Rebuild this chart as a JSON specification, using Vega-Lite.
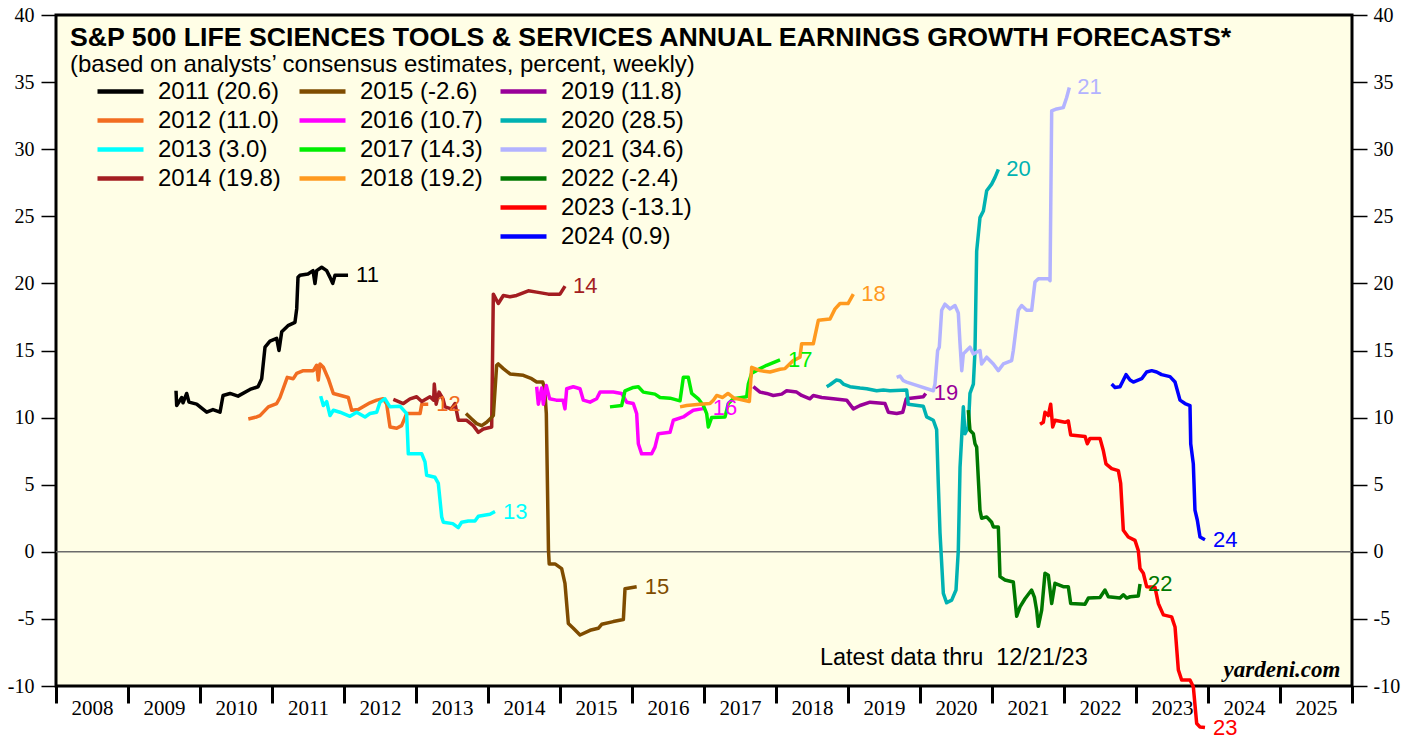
{
  "$schema": "https://vega.github.io/schema/vega-lite/v6.json",
  "width": 1296,
  "height": 671,
  "autosize": {"type": "none"},
  "padding": {"left": 56, "top": 15, "right": 67, "bottom": 52},
  "background": "white",
  "config": {
    "view": {"fill": "#fffee6", "stroke": "black", "strokeWidth": 3},
    "font": "Liberation Sans",
    "axis": {"grid": false, "domain": false, "tickColor": "black", "labelColor": "black", "labelFont": "Liberation Serif", "labelFontSize": 20, "labelFlush": false, "labelOverlap": false, "labelBound": false}
  },
  "title": {
    "text": "S&P 500 LIFE SCIENCES TOOLS & SERVICES ANNUAL EARNINGS GROWTH FORECASTS*",
    "subtitle": "(based on analysts’ consensus estimates, percent, weekly)",
    "anchor": "start", "frame": "group", "dx": 14, "offset": -72,
    "font": "Liberation Sans", "fontSize": 26.7, "fontWeight": "bold", "color": "black",
    "subtitleFont": "Liberation Sans", "subtitleFontSize": 24, "subtitleColor": "black", "subtitlePadding": 1
  },
  "datasets": {
    "est": [
      {"series":"2011 (20.6)","date":2009.667,"value":12.0},{"series":"2011 (20.6)","date":2009.676,"value":10.9},{"series":"2011 (20.6)","date":2009.746,"value":11.5},{"series":"2011 (20.6)","date":2009.764,"value":11.1},{"series":"2011 (20.6)","date":2009.815,"value":11.8},{"series":"2011 (20.6)","date":2009.847,"value":11.15},{"series":"2011 (20.6)","date":2009.954,"value":11.0},{"series":"2011 (20.6)","date":2010.093,"value":10.4},{"series":"2011 (20.6)","date":2010.18,"value":10.6},{"series":"2011 (20.6)","date":2010.278,"value":10.4},{"series":"2011 (20.6)","date":2010.32,"value":11.65},{"series":"2011 (20.6)","date":2010.417,"value":11.8},{"series":"2011 (20.6)","date":2010.528,"value":11.6},{"series":"2011 (20.6)","date":2010.694,"value":12.1},{"series":"2011 (20.6)","date":2010.806,"value":12.3},{"series":"2011 (20.6)","date":2010.857,"value":12.9},{"series":"2011 (20.6)","date":2010.903,"value":15.25},{"series":"2011 (20.6)","date":2010.972,"value":15.7},{"series":"2011 (20.6)","date":2011.065,"value":15.9},{"series":"2011 (20.6)","date":2011.097,"value":15.0},{"series":"2011 (20.6)","date":2011.135,"value":16.4},{"series":"2011 (20.6)","date":2011.222,"value":16.85},{"series":"2011 (20.6)","date":2011.319,"value":17.1},{"series":"2011 (20.6)","date":2011.343,"value":18.1},{"series":"2011 (20.6)","date":2011.361,"value":20.45},{"series":"2011 (20.6)","date":2011.389,"value":20.6},{"series":"2011 (20.6)","date":2011.5,"value":20.7},{"series":"2011 (20.6)","date":2011.57,"value":20.95},{"series":"2011 (20.6)","date":2011.597,"value":20.0},{"series":"2011 (20.6)","date":2011.62,"value":20.95},{"series":"2011 (20.6)","date":2011.69,"value":21.2},{"series":"2011 (20.6)","date":2011.76,"value":20.95},{"series":"2011 (20.6)","date":2011.806,"value":20.45},{"series":"2011 (20.6)","date":2011.843,"value":20.0},{"series":"2011 (20.6)","date":2011.875,"value":20.6},{"series":"2011 (20.6)","date":2012.056,"value":20.6},

      {"series":"2012 (11.0)","date":2010.671,"value":9.9},{"series":"2012 (11.0)","date":2010.787,"value":10.05},{"series":"2012 (11.0)","date":2010.833,"value":10.15},{"series":"2012 (11.0)","date":2010.949,"value":10.8},{"series":"2012 (11.0)","date":2011.065,"value":11.05},{"series":"2012 (11.0)","date":2011.111,"value":11.5},{"series":"2012 (11.0)","date":2011.212,"value":13.0},{"series":"2012 (11.0)","date":2011.296,"value":12.9},{"series":"2012 (11.0)","date":2011.343,"value":13.3},{"series":"2012 (11.0)","date":2011.435,"value":13.5},{"series":"2012 (11.0)","date":2011.574,"value":13.5},{"series":"2012 (11.0)","date":2011.62,"value":13.9},{"series":"2012 (11.0)","date":2011.643,"value":12.8},{"series":"2012 (11.0)","date":2011.667,"value":14.0},{"series":"2012 (11.0)","date":2011.713,"value":13.75},{"series":"2012 (11.0)","date":2011.782,"value":12.9},{"series":"2012 (11.0)","date":2011.852,"value":11.8},{"series":"2012 (11.0)","date":2012.06,"value":11.5},{"series":"2012 (11.0)","date":2012.107,"value":10.55},{"series":"2012 (11.0)","date":2012.199,"value":10.6},{"series":"2012 (11.0)","date":2012.361,"value":11.1},{"series":"2012 (11.0)","date":2012.454,"value":11.3},{"series":"2012 (11.0)","date":2012.546,"value":11.4},{"series":"2012 (11.0)","date":2012.593,"value":11.0},{"series":"2012 (11.0)","date":2012.639,"value":9.3},{"series":"2012 (11.0)","date":2012.732,"value":9.2},{"series":"2012 (11.0)","date":2012.8,"value":9.4},{"series":"2012 (11.0)","date":2012.87,"value":10.3},{"series":"2012 (11.0)","date":2013.056,"value":10.3},{"series":"2012 (11.0)","date":2013.08,"value":11.0},{"series":"2012 (11.0)","date":2013.17,"value":11.0},

      {"series":"2013 (3.0)","date":2011.676,"value":11.6},{"series":"2013 (3.0)","date":2011.713,"value":10.9},{"series":"2013 (3.0)","date":2011.759,"value":11.2},{"series":"2013 (3.0)","date":2011.806,"value":10.15},{"series":"2013 (3.0)","date":2011.852,"value":10.55},{"series":"2013 (3.0)","date":2011.944,"value":10.4},{"series":"2013 (3.0)","date":2012.083,"value":10.1},{"series":"2013 (3.0)","date":2012.176,"value":10.4},{"series":"2013 (3.0)","date":2012.292,"value":10.05},{"series":"2013 (3.0)","date":2012.361,"value":10.3},{"series":"2013 (3.0)","date":2012.454,"value":10.4},{"series":"2013 (3.0)","date":2012.5,"value":11.15},{"series":"2013 (3.0)","date":2012.569,"value":11.4},{"series":"2013 (3.0)","date":2012.639,"value":10.8},{"series":"2013 (3.0)","date":2012.778,"value":10.85},{"series":"2013 (3.0)","date":2012.87,"value":10.3},{"series":"2013 (3.0)","date":2012.893,"value":7.3},{"series":"2013 (3.0)","date":2013.08,"value":7.3},{"series":"2013 (3.0)","date":2013.125,"value":6.7},{"series":"2013 (3.0)","date":2013.148,"value":5.7},{"series":"2013 (3.0)","date":2013.264,"value":5.55},{"series":"2013 (3.0)","date":2013.31,"value":5.1},{"series":"2013 (3.0)","date":2013.357,"value":2.6},{"series":"2013 (3.0)","date":2013.38,"value":2.2},{"series":"2013 (3.0)","date":2013.51,"value":2.1},{"series":"2013 (3.0)","date":2013.587,"value":1.8},{"series":"2013 (3.0)","date":2013.634,"value":2.2},{"series":"2013 (3.0)","date":2013.727,"value":2.3},{"series":"2013 (3.0)","date":2013.819,"value":2.3},{"series":"2013 (3.0)","date":2013.866,"value":2.65},{"series":"2013 (3.0)","date":2014.028,"value":2.8},{"series":"2013 (3.0)","date":2014.097,"value":3.0},

      {"series":"2014 (19.8)","date":2012.685,"value":11.35},{"series":"2014 (19.8)","date":2012.824,"value":11.05},{"series":"2014 (19.8)","date":2012.917,"value":11.4},{"series":"2014 (19.8)","date":2013.009,"value":11.55},{"series":"2014 (19.8)","date":2013.08,"value":11.2},{"series":"2014 (19.8)","date":2013.194,"value":11.55},{"series":"2014 (19.8)","date":2013.245,"value":11.3},{"series":"2014 (19.8)","date":2013.254,"value":12.5},{"series":"2014 (19.8)","date":2013.28,"value":11.0},{"series":"2014 (19.8)","date":2013.32,"value":11.9},{"series":"2014 (19.8)","date":2013.375,"value":11.4},{"series":"2014 (19.8)","date":2013.403,"value":10.8},{"series":"2014 (19.8)","date":2013.49,"value":10.65},{"series":"2014 (19.8)","date":2013.542,"value":11.05},{"series":"2014 (19.8)","date":2013.588,"value":9.8},{"series":"2014 (19.8)","date":2013.704,"value":9.8},{"series":"2014 (19.8)","date":2013.796,"value":9.4},{"series":"2014 (19.8)","date":2013.866,"value":8.9},{"series":"2014 (19.8)","date":2013.935,"value":9.15},{"series":"2014 (19.8)","date":2014.051,"value":9.3},{"series":"2014 (19.8)","date":2014.074,"value":19.2},{"series":"2014 (19.8)","date":2014.143,"value":18.5},{"series":"2014 (19.8)","date":2014.213,"value":19.1},{"series":"2014 (19.8)","date":2014.306,"value":19.0},{"series":"2014 (19.8)","date":2014.398,"value":19.1},{"series":"2014 (19.8)","date":2014.56,"value":19.45},{"series":"2014 (19.8)","date":2014.676,"value":19.35},{"series":"2014 (19.8)","date":2014.838,"value":19.2},{"series":"2014 (19.8)","date":2015.0,"value":19.2},{"series":"2014 (19.8)","date":2015.07,"value":19.8},

      {"series":"2015 (-2.6)","date":2013.694,"value":10.3},{"series":"2015 (-2.6)","date":2013.773,"value":9.9},{"series":"2015 (-2.6)","date":2013.843,"value":9.55},{"series":"2015 (-2.6)","date":2013.912,"value":9.4},{"series":"2015 (-2.6)","date":2013.981,"value":9.65},{"series":"2015 (-2.6)","date":2014.028,"value":9.9},{"series":"2015 (-2.6)","date":2014.074,"value":10.15},{"series":"2015 (-2.6)","date":2014.12,"value":13.9},{"series":"2015 (-2.6)","date":2014.143,"value":14.0},{"series":"2015 (-2.6)","date":2014.213,"value":13.65},{"series":"2015 (-2.6)","date":2014.306,"value":13.25},{"series":"2015 (-2.6)","date":2014.49,"value":13.15},{"series":"2015 (-2.6)","date":2014.606,"value":12.9},{"series":"2015 (-2.6)","date":2014.676,"value":12.65},{"series":"2015 (-2.6)","date":2014.76,"value":12.65},{"series":"2015 (-2.6)","date":2014.787,"value":12.15},{"series":"2015 (-2.6)","date":2014.81,"value":10.3},{"series":"2015 (-2.6)","date":2014.84,"value":0.1},{"series":"2015 (-2.6)","date":2014.85,"value":-0.9},{"series":"2015 (-2.6)","date":2014.93,"value":-0.9},{"series":"2015 (-2.6)","date":2015.023,"value":-1.25},{"series":"2015 (-2.6)","date":2015.069,"value":-2.35},{"series":"2015 (-2.6)","date":2015.116,"value":-5.35},{"series":"2015 (-2.6)","date":2015.185,"value":-5.7},{"series":"2015 (-2.6)","date":2015.278,"value":-6.2},{"series":"2015 (-2.6)","date":2015.417,"value":-5.85},{"series":"2015 (-2.6)","date":2015.532,"value":-5.7},{"series":"2015 (-2.6)","date":2015.579,"value":-5.4},{"series":"2015 (-2.6)","date":2015.74,"value":-5.2},{"series":"2015 (-2.6)","date":2015.88,"value":-5.05},{"series":"2015 (-2.6)","date":2015.903,"value":-2.75},{"series":"2015 (-2.6)","date":2016.065,"value":-2.6},

      {"series":"2016 (10.7)","date":2014.676,"value":12.3},{"series":"2016 (10.7)","date":2014.699,"value":11.0},{"series":"2016 (10.7)","date":2014.745,"value":12.2},{"series":"2016 (10.7)","date":2014.768,"value":11.0},{"series":"2016 (10.7)","date":2014.81,"value":12.4},{"series":"2016 (10.7)","date":2014.856,"value":11.4},{"series":"2016 (10.7)","date":2014.949,"value":11.3},{"series":"2016 (10.7)","date":2015.042,"value":11.3},{"series":"2016 (10.7)","date":2015.069,"value":10.65},{"series":"2016 (10.7)","date":2015.093,"value":12.15},{"series":"2016 (10.7)","date":2015.185,"value":12.3},{"series":"2016 (10.7)","date":2015.278,"value":12.15},{"series":"2016 (10.7)","date":2015.324,"value":11.3},{"series":"2016 (10.7)","date":2015.417,"value":11.15},{"series":"2016 (10.7)","date":2015.509,"value":11.4},{"series":"2016 (10.7)","date":2015.556,"value":11.9},{"series":"2016 (10.7)","date":2015.74,"value":11.9},{"series":"2016 (10.7)","date":2015.856,"value":11.8},{"series":"2016 (10.7)","date":2015.926,"value":11.15},{"series":"2016 (10.7)","date":2016.018,"value":11.05},{"series":"2016 (10.7)","date":2016.065,"value":10.3},{"series":"2016 (10.7)","date":2016.088,"value":8.05},{"series":"2016 (10.7)","date":2016.134,"value":7.3},{"series":"2016 (10.7)","date":2016.273,"value":7.3},{"series":"2016 (10.7)","date":2016.319,"value":7.8},{"series":"2016 (10.7)","date":2016.365,"value":8.8},{"series":"2016 (10.7)","date":2016.528,"value":8.9},{"series":"2016 (10.7)","date":2016.574,"value":9.8},{"series":"2016 (10.7)","date":2016.713,"value":10.05},{"series":"2016 (10.7)","date":2016.782,"value":10.3},{"series":"2016 (10.7)","date":2016.852,"value":10.55},{"series":"2016 (10.7)","date":2016.968,"value":10.65},{"series":"2016 (10.7)","date":2017.01,"value":10.7},

      {"series":"2017 (14.3)","date":2015.694,"value":10.8},{"series":"2017 (14.3)","date":2015.856,"value":10.9},{"series":"2017 (14.3)","date":2015.903,"value":12.0},{"series":"2017 (14.3)","date":2016.019,"value":12.25},{"series":"2017 (14.3)","date":2016.088,"value":12.3},{"series":"2017 (14.3)","date":2016.157,"value":11.9},{"series":"2017 (14.3)","date":2016.319,"value":11.75},{"series":"2017 (14.3)","date":2016.389,"value":11.5},{"series":"2017 (14.3)","date":2016.528,"value":11.45},{"series":"2017 (14.3)","date":2016.667,"value":11.25},{"series":"2017 (14.3)","date":2016.713,"value":13.0},{"series":"2017 (14.3)","date":2016.782,"value":13.0},{"series":"2017 (14.3)","date":2016.829,"value":11.8},{"series":"2017 (14.3)","date":2016.921,"value":11.4},{"series":"2017 (14.3)","date":2016.991,"value":10.9},{"series":"2017 (14.3)","date":2017.037,"value":10.3},{"series":"2017 (14.3)","date":2017.06,"value":9.3},{"series":"2017 (14.3)","date":2017.106,"value":10.0},{"series":"2017 (14.3)","date":2017.292,"value":10.05},{"series":"2017 (14.3)","date":2017.338,"value":11.05},{"series":"2017 (14.3)","date":2017.407,"value":11.4},{"series":"2017 (14.3)","date":2017.593,"value":11.55},{"series":"2017 (14.3)","date":2017.616,"value":12.5},{"series":"2017 (14.3)","date":2017.662,"value":13.3},{"series":"2017 (14.3)","date":2017.778,"value":13.65},{"series":"2017 (14.3)","date":2017.87,"value":13.9},{"series":"2017 (14.3)","date":2017.963,"value":14.1},{"series":"2017 (14.3)","date":2018.056,"value":14.3},

      {"series":"2018 (19.2)","date":2016.667,"value":10.8},{"series":"2018 (19.2)","date":2016.76,"value":10.9},{"series":"2018 (19.2)","date":2016.944,"value":11.0},{"series":"2018 (19.2)","date":2017.083,"value":11.05},{"series":"2018 (19.2)","date":2017.13,"value":11.3},{"series":"2018 (19.2)","date":2017.176,"value":11.65},{"series":"2018 (19.2)","date":2017.259,"value":11.5},{"series":"2018 (19.2)","date":2017.333,"value":11.8},{"series":"2018 (19.2)","date":2017.417,"value":11.45},{"series":"2018 (19.2)","date":2017.63,"value":11.2},{"series":"2018 (19.2)","date":2017.662,"value":13.75},{"series":"2018 (19.2)","date":2017.778,"value":13.5},{"series":"2018 (19.2)","date":2017.917,"value":13.4},{"series":"2018 (19.2)","date":2018.056,"value":13.6},{"series":"2018 (19.2)","date":2018.125,"value":13.65},{"series":"2018 (19.2)","date":2018.24,"value":14.25},{"series":"2018 (19.2)","date":2018.333,"value":14.5},{"series":"2018 (19.2)","date":2018.356,"value":15.5},{"series":"2018 (19.2)","date":2018.518,"value":15.5},{"series":"2018 (19.2)","date":2018.588,"value":17.25},{"series":"2018 (19.2)","date":2018.75,"value":17.35},{"series":"2018 (19.2)","date":2018.82,"value":18.1},{"series":"2018 (19.2)","date":2018.889,"value":18.5},{"series":"2018 (19.2)","date":2019.0,"value":18.5},{"series":"2018 (19.2)","date":2019.074,"value":19.2},

      {"series":"2019 (11.8)","date":2017.685,"value":12.3},{"series":"2019 (11.8)","date":2017.778,"value":11.9},{"series":"2019 (11.8)","date":2017.87,"value":11.8},{"series":"2019 (11.8)","date":2017.963,"value":11.65},{"series":"2019 (11.8)","date":2018.079,"value":11.75},{"series":"2019 (11.8)","date":2018.148,"value":12.0},{"series":"2019 (11.8)","date":2018.287,"value":11.9},{"series":"2019 (11.8)","date":2018.356,"value":11.65},{"series":"2019 (11.8)","date":2018.472,"value":11.4},{"series":"2019 (11.8)","date":2018.518,"value":11.65},{"series":"2019 (11.8)","date":2018.634,"value":11.5},{"series":"2019 (11.8)","date":2018.796,"value":11.4},{"series":"2019 (11.8)","date":2018.981,"value":11.3},{"series":"2019 (11.8)","date":2019.074,"value":10.65},{"series":"2019 (11.8)","date":2019.167,"value":10.9},{"series":"2019 (11.8)","date":2019.306,"value":11.15},{"series":"2019 (11.8)","date":2019.514,"value":11.05},{"series":"2019 (11.8)","date":2019.56,"value":10.4},{"series":"2019 (11.8)","date":2019.676,"value":10.3},{"series":"2019 (11.8)","date":2019.76,"value":10.4},{"series":"2019 (11.8)","date":2019.81,"value":11.4},{"series":"2019 (11.8)","date":2020.046,"value":11.55},{"series":"2019 (11.8)","date":2020.08,"value":11.8},

      {"series":"2020 (28.5)","date":2018.704,"value":12.3},{"series":"2020 (28.5)","date":2018.75,"value":12.45},{"series":"2020 (28.5)","date":2018.84,"value":12.8},{"series":"2020 (28.5)","date":2018.889,"value":12.75},{"series":"2020 (28.5)","date":2018.935,"value":12.5},{"series":"2020 (28.5)","date":2019.028,"value":12.3},{"series":"2020 (28.5)","date":2019.167,"value":12.2},{"series":"2020 (28.5)","date":2019.26,"value":12.15},{"series":"2020 (28.5)","date":2019.398,"value":12.0},{"series":"2020 (28.5)","date":2019.491,"value":12.05},{"series":"2020 (28.5)","date":2019.583,"value":12.0},{"series":"2020 (28.5)","date":2019.815,"value":12.05},{"series":"2020 (28.5)","date":2019.837,"value":11.0},{"series":"2020 (28.5)","date":2020.046,"value":10.85},{"series":"2020 (28.5)","date":2020.093,"value":10.05},{"series":"2020 (28.5)","date":2020.185,"value":9.8},{"series":"2020 (28.5)","date":2020.231,"value":9.1},{"series":"2020 (28.5)","date":2020.254,"value":5.1},{"series":"2020 (28.5)","date":2020.278,"value":1.4},{"series":"2020 (28.5)","date":2020.324,"value":-3.1},{"series":"2020 (28.5)","date":2020.37,"value":-3.8},{"series":"2020 (28.5)","date":2020.44,"value":-3.6},{"series":"2020 (28.5)","date":2020.5,"value":-2.85},{"series":"2020 (28.5)","date":2020.532,"value":0.1},{"series":"2020 (28.5)","date":2020.556,"value":6.3},{"series":"2020 (28.5)","date":2020.602,"value":10.8},{"series":"2020 (28.5)","date":2020.625,"value":8.8},{"series":"2020 (28.5)","date":2020.671,"value":9.3},{"series":"2020 (28.5)","date":2020.694,"value":11.8},{"series":"2020 (28.5)","date":2020.741,"value":12.5},{"series":"2020 (28.5)","date":2020.764,"value":15.0},{"series":"2020 (28.5)","date":2020.787,"value":22.4},{"series":"2020 (28.5)","date":2020.833,"value":24.9},{"series":"2020 (28.5)","date":2020.88,"value":25.4},{"series":"2020 (28.5)","date":2020.926,"value":26.9},{"series":"2020 (28.5)","date":2020.995,"value":27.4},{"series":"2020 (28.5)","date":2021.042,"value":27.9},{"series":"2020 (28.5)","date":2021.088,"value":28.5},

      {"series":"2021 (34.6)","date":2019.676,"value":13.0},{"series":"2021 (34.6)","date":2019.722,"value":13.1},{"series":"2021 (34.6)","date":2019.769,"value":12.75},{"series":"2021 (34.6)","date":2019.815,"value":12.65},{"series":"2021 (34.6)","date":2019.954,"value":12.4},{"series":"2021 (34.6)","date":2020.185,"value":12.0},{"series":"2021 (34.6)","date":2020.208,"value":12.5},{"series":"2021 (34.6)","date":2020.245,"value":15.0},{"series":"2021 (34.6)","date":2020.268,"value":15.25},{"series":"2021 (34.6)","date":2020.301,"value":18.0},{"series":"2021 (34.6)","date":2020.347,"value":18.45},{"series":"2021 (34.6)","date":2020.417,"value":18.1},{"series":"2021 (34.6)","date":2020.486,"value":18.35},{"series":"2021 (34.6)","date":2020.532,"value":17.8},{"series":"2021 (34.6)","date":2020.556,"value":15.5},{"series":"2021 (34.6)","date":2020.58,"value":13.5},{"series":"2021 (34.6)","date":2020.602,"value":14.75},{"series":"2021 (34.6)","date":2020.648,"value":15.0},{"series":"2021 (34.6)","date":2020.694,"value":15.25},{"series":"2021 (34.6)","date":2020.741,"value":14.75},{"series":"2021 (34.6)","date":2020.833,"value":15.0},{"series":"2021 (34.6)","date":2020.856,"value":14.0},{"series":"2021 (34.6)","date":2020.926,"value":14.5},{"series":"2021 (34.6)","date":2021.019,"value":14.0},{"series":"2021 (34.6)","date":2021.088,"value":13.5},{"series":"2021 (34.6)","date":2021.157,"value":14.0},{"series":"2021 (34.6)","date":2021.273,"value":14.25},{"series":"2021 (34.6)","date":2021.296,"value":15.0},{"series":"2021 (34.6)","date":2021.366,"value":18.0},{"series":"2021 (34.6)","date":2021.412,"value":18.35},{"series":"2021 (34.6)","date":2021.481,"value":18.0},{"series":"2021 (34.6)","date":2021.551,"value":18.0},{"series":"2021 (34.6)","date":2021.597,"value":20.1},{"series":"2021 (34.6)","date":2021.644,"value":20.35},{"series":"2021 (34.6)","date":2021.782,"value":20.35},{"series":"2021 (34.6)","date":2021.806,"value":20.2},{"series":"2021 (34.6)","date":2021.829,"value":32.85},{"series":"2021 (34.6)","date":2021.898,"value":33.0},{"series":"2021 (34.6)","date":2021.99,"value":33.1},{"series":"2021 (34.6)","date":2022.037,"value":33.85},{"series":"2021 (34.6)","date":2022.074,"value":34.6},

      {"series":"2022 (-2.4)","date":2020.671,"value":10.55},{"series":"2022 (-2.4)","date":2020.694,"value":9.05},{"series":"2022 (-2.4)","date":2020.741,"value":8.8},{"series":"2022 (-2.4)","date":2020.764,"value":8.05},{"series":"2022 (-2.4)","date":2020.787,"value":7.8},{"series":"2022 (-2.4)","date":2020.833,"value":3.1},{"series":"2022 (-2.4)","date":2020.856,"value":2.5},{"series":"2022 (-2.4)","date":2020.926,"value":2.6},{"series":"2022 (-2.4)","date":2020.995,"value":2.2},{"series":"2022 (-2.4)","date":2021.019,"value":1.85},{"series":"2022 (-2.4)","date":2021.088,"value":1.85},{"series":"2022 (-2.4)","date":2021.111,"value":-1.85},{"series":"2022 (-2.4)","date":2021.181,"value":-2.1},{"series":"2022 (-2.4)","date":2021.296,"value":-2.25},{"series":"2022 (-2.4)","date":2021.343,"value":-4.8},{"series":"2022 (-2.4)","date":2021.389,"value":-4.1},{"series":"2022 (-2.4)","date":2021.458,"value":-3.5},{"series":"2022 (-2.4)","date":2021.55,"value":-2.85},{"series":"2022 (-2.4)","date":2021.59,"value":-3.4},{"series":"2022 (-2.4)","date":2021.62,"value":-4.35},{"series":"2022 (-2.4)","date":2021.643,"value":-5.55},{"series":"2022 (-2.4)","date":2021.69,"value":-4.35},{"series":"2022 (-2.4)","date":2021.736,"value":-1.6},{"series":"2022 (-2.4)","date":2021.782,"value":-1.75},{"series":"2022 (-2.4)","date":2021.829,"value":-3.85},{"series":"2022 (-2.4)","date":2021.875,"value":-2.35},{"series":"2022 (-2.4)","date":2021.99,"value":-2.6},{"series":"2022 (-2.4)","date":2022.06,"value":-2.6},{"series":"2022 (-2.4)","date":2022.093,"value":-3.85},{"series":"2022 (-2.4)","date":2022.292,"value":-3.9},{"series":"2022 (-2.4)","date":2022.338,"value":-3.45},{"series":"2022 (-2.4)","date":2022.5,"value":-3.4},{"series":"2022 (-2.4)","date":2022.569,"value":-2.85},{"series":"2022 (-2.4)","date":2022.616,"value":-3.35},{"series":"2022 (-2.4)","date":2022.778,"value":-3.45},{"series":"2022 (-2.4)","date":2022.824,"value":-3.2},{"series":"2022 (-2.4)","date":2022.87,"value":-3.45},{"series":"2022 (-2.4)","date":2022.92,"value":-3.35},{"series":"2022 (-2.4)","date":2023.032,"value":-3.3},{"series":"2022 (-2.4)","date":2023.056,"value":-2.4},

      {"series":"2023 (-13.1)","date":2021.667,"value":9.5},{"series":"2023 (-13.1)","date":2021.713,"value":9.65},{"series":"2023 (-13.1)","date":2021.736,"value":10.4},{"series":"2023 (-13.1)","date":2021.782,"value":10.15},{"series":"2023 (-13.1)","date":2021.815,"value":11.0},{"series":"2023 (-13.1)","date":2021.843,"value":9.3},{"series":"2023 (-13.1)","date":2021.875,"value":9.8},{"series":"2023 (-13.1)","date":2022.014,"value":9.65},{"series":"2023 (-13.1)","date":2022.06,"value":9.75},{"series":"2023 (-13.1)","date":2022.093,"value":8.7},{"series":"2023 (-13.1)","date":2022.292,"value":8.6},{"series":"2023 (-13.1)","date":2022.324,"value":8.05},{"series":"2023 (-13.1)","date":2022.361,"value":8.45},{"series":"2023 (-13.1)","date":2022.5,"value":8.45},{"series":"2023 (-13.1)","date":2022.546,"value":7.55},{"series":"2023 (-13.1)","date":2022.583,"value":6.55},{"series":"2023 (-13.1)","date":2022.662,"value":6.2},{"series":"2023 (-13.1)","date":2022.755,"value":6.05},{"series":"2023 (-13.1)","date":2022.787,"value":5.1},{"series":"2023 (-13.1)","date":2022.824,"value":1.6},{"series":"2023 (-13.1)","date":2022.893,"value":1.1},{"series":"2023 (-13.1)","date":2022.986,"value":0.85},{"series":"2023 (-13.1)","date":2023.032,"value":0.1},{"series":"2023 (-13.1)","date":2023.056,"value":-1.25},{"series":"2023 (-13.1)","date":2023.102,"value":-1.6},{"series":"2023 (-13.1)","date":2023.148,"value":-2.6},{"series":"2023 (-13.1)","date":2023.264,"value":-2.65},{"series":"2023 (-13.1)","date":2023.31,"value":-3.85},{"series":"2023 (-13.1)","date":2023.38,"value":-4.7},{"series":"2023 (-13.1)","date":2023.495,"value":-4.85},{"series":"2023 (-13.1)","date":2023.542,"value":-5.6},{"series":"2023 (-13.1)","date":2023.588,"value":-8.8},{"series":"2023 (-13.1)","date":2023.634,"value":-9.55},{"series":"2023 (-13.1)","date":2023.75,"value":-9.55},{"series":"2023 (-13.1)","date":2023.796,"value":-10.05},{"series":"2023 (-13.1)","date":2023.843,"value":-12.8},{"series":"2023 (-13.1)","date":2023.889,"value":-13.05},{"series":"2023 (-13.1)","date":2023.958,"value":-13.1},

      {"series":"2024 (0.9)","date":2022.662,"value":12.5},{"series":"2024 (0.9)","date":2022.708,"value":12.25},{"series":"2024 (0.9)","date":2022.778,"value":12.3},{"series":"2024 (0.9)","date":2022.861,"value":13.2},{"series":"2024 (0.9)","date":2022.917,"value":12.8},{"series":"2024 (0.9)","date":2022.963,"value":12.65},{"series":"2024 (0.9)","date":2023.079,"value":12.9},{"series":"2024 (0.9)","date":2023.148,"value":13.4},{"series":"2024 (0.9)","date":2023.218,"value":13.5},{"series":"2024 (0.9)","date":2023.287,"value":13.4},{"series":"2024 (0.9)","date":2023.356,"value":13.2},{"series":"2024 (0.9)","date":2023.472,"value":13.05},{"series":"2024 (0.9)","date":2023.542,"value":12.65},{"series":"2024 (0.9)","date":2023.611,"value":11.3},{"series":"2024 (0.9)","date":2023.68,"value":11.05},{"series":"2024 (0.9)","date":2023.75,"value":10.9},{"series":"2024 (0.9)","date":2023.76,"value":8.05},{"series":"2024 (0.9)","date":2023.796,"value":6.55},{"series":"2024 (0.9)","date":2023.819,"value":3.1},{"series":"2024 (0.9)","date":2023.852,"value":2.35},{"series":"2024 (0.9)","date":2023.889,"value":1.1},{"series":"2024 (0.9)","date":2023.958,"value":0.9}
    ]
  },
  "layer": [
    {
      "data": {"values": [{"note": "zero"}]},
      "mark": {"type": "rule", "color": "#6b6b6b", "strokeWidth": 1.5},
      "encoding": {"y": {"datum": 0, "type": "quantitative", "axis": null}}
    },
    {
      "data": {"name": "est"},
      "transform": [{"filter": {"field": "series", "oneOf": ["2011 (20.6)", "2012 (11.0)", "2013 (3.0)", "2014 (19.8)"]}}],
      "layer": [
        {
          "mark": {"type": "line", "strokeWidth": 3.5, "strokeJoin": "round"},
          "encoding": {
            "x": {"field": "date", "type": "quantitative", "scale": {"domain": [2008, 2026], "nice": false, "zero": false},
              "axis": {"title": null, "orient": "bottom", "values": [2008,2009,2010,2011,2012,2013,2014,2015,2016,2017,2018,2019,2020,2021,2022,2023,2024,2025,2026], "tickSize": 17, "tickWidth": 3, "labelExpr": "datum.value < 2026 ? '' + datum.value : ''", "labelOffset": 36, "labelPadding": -6, "labelFontSize": 21, "labelBaseline": "top", "labelAlign": "center"}},
            "y": {"field": "value", "type": "quantitative", "scale": {"domain": [-10, 40], "nice": false, "zero": false},
              "axis": {"title": null, "orient": "left", "values": [-10,-5,0,5,10,15,20,25,30,35,40], "tickSize": 15, "tickWidth": 1.5, "labelPadding": 7, "labelExpr": "'' + datum.value", "labelFontSize": 20}},
            "color": {"field": "series", "type": "nominal",
              "scale": {"domain": ["2011 (20.6)", "2012 (11.0)", "2013 (3.0)", "2014 (19.8)"], "range": ["#000000", "#f26d21", "#00ffff", "#a31d21"]},
              "legend": {"title": null, "orient": "none", "legendX": 52, "legendY": 64, "symbolType": "M-2.3,0H2.3", "symbolSize": 400, "symbolStrokeWidth": 4.5, "labelFont": "Liberation Sans", "labelFontSize": 24, "labelColor": "black", "labelOffset": 25, "rowPadding": 4, "padding": 0, "labelLimit": 400}}
          }
        },
        {
          "transform": [
            {"joinaggregate": [{"op": "max", "field": "date", "as": "last"}], "groupby": ["series"]},
            {"filter": "datum.date === datum.last"},
            {"calculate": "substring(datum.series, 2, 4)", "as": "tag"}
          ],
          "mark": {"type": "text", "align": "left", "baseline": "middle", "dx": 8, "fontSize": 22, "font": "Liberation Sans"},
          "encoding": {
            "x": {"field": "date", "type": "quantitative"},
            "y": {"field": "value", "type": "quantitative"},
            "text": {"field": "tag"},
            "color": {"field": "series", "type": "nominal", "legend": null}
          }
        }
      ]
    },
    {
      "data": {"name": "est"},
      "transform": [{"filter": {"field": "series", "oneOf": ["2015 (-2.6)", "2016 (10.7)", "2017 (14.3)", "2018 (19.2)"]}}],
      "layer": [
        {
          "mark": {"type": "line", "strokeWidth": 3.5, "strokeJoin": "round"},
          "encoding": {
            "x": {"field": "date", "type": "quantitative", "axis": null},
            "y": {"field": "value", "type": "quantitative",
              "axis": {"title": null, "orient": "right", "values": [-10,-5,0,5,10,15,20,25,30,35,40], "tickSize": 15, "tickWidth": 1.5, "labelPadding": 6, "labelExpr": "'' + datum.value", "labelFontSize": 20}},
            "color": {"field": "series", "type": "nominal",
              "scale": {"domain": ["2015 (-2.6)", "2016 (10.7)", "2017 (14.3)", "2018 (19.2)"], "range": ["#7f4c00", "#ff00ff", "#00ee00", "#ff9a1f"]},
              "legend": {"title": null, "orient": "none", "legendX": 254, "legendY": 64, "symbolType": "M-2.3,0H2.3", "symbolSize": 400, "symbolStrokeWidth": 4.5, "labelFont": "Liberation Sans", "labelFontSize": 24, "labelColor": "black", "labelOffset": 25, "rowPadding": 4, "padding": 0, "labelLimit": 400}}
          }
        },
        {
          "transform": [
            {"joinaggregate": [{"op": "max", "field": "date", "as": "last"}], "groupby": ["series"]},
            {"filter": "datum.date === datum.last"},
            {"calculate": "substring(datum.series, 2, 4)", "as": "tag"}
          ],
          "mark": {"type": "text", "align": "left", "baseline": "middle", "dx": 8, "fontSize": 22, "font": "Liberation Sans"},
          "encoding": {
            "x": {"field": "date", "type": "quantitative", "axis": null},
            "y": {"field": "value", "type": "quantitative"},
            "text": {"field": "tag"},
            "color": {"field": "series", "type": "nominal", "legend": null}
          }
        }
      ]
    },
    {
      "data": {"name": "est"},
      "transform": [{"filter": {"field": "series", "oneOf": ["2019 (11.8)", "2020 (28.5)", "2021 (34.6)", "2022 (-2.4)", "2023 (-13.1)", "2024 (0.9)"]}}],
      "layer": [
        {
          "mark": {"type": "line", "strokeWidth": 3.5, "strokeJoin": "round"},
          "encoding": {
            "x": {"field": "date", "type": "quantitative", "axis": null},
            "y": {"field": "value", "type": "quantitative", "axis": null},
            "color": {"field": "series", "type": "nominal",
              "scale": {"domain": ["2019 (11.8)", "2020 (28.5)", "2021 (34.6)", "2022 (-2.4)", "2023 (-13.1)", "2024 (0.9)"], "range": ["#990099", "#00b2b2", "#b3b3ff", "#007800", "#ff0000", "#0000ff"]},
              "legend": {"title": null, "orient": "none", "legendX": 455, "legendY": 64, "symbolType": "M-2.3,0H2.3", "symbolSize": 400, "symbolStrokeWidth": 4.5, "labelFont": "Liberation Sans", "labelFontSize": 24, "labelColor": "black", "labelOffset": 25, "rowPadding": 4, "padding": 0, "labelLimit": 400}}
          }
        },
        {
          "transform": [
            {"joinaggregate": [{"op": "max", "field": "date", "as": "last"}], "groupby": ["series"]},
            {"filter": "datum.date === datum.last"},
            {"calculate": "substring(datum.series, 2, 4)", "as": "tag"}
          ],
          "mark": {"type": "text", "align": "left", "baseline": "middle", "dx": 8, "fontSize": 22, "font": "Liberation Sans"},
          "encoding": {
            "x": {"field": "date", "type": "quantitative", "axis": null},
            "y": {"field": "value", "type": "quantitative", "axis": null},
            "text": {"field": "tag"},
            "color": {"field": "series", "type": "nominal", "legend": null}
          }
        }
      ]
    },
    {
      "data": {"values": [{"note": "Latest data thru\u00a0 12/21/23"}]},
      "mark": {"type": "text", "align": "left", "baseline": "alphabetic", "fontSize": 23.5, "font": "Liberation Sans", "color": "black"},
      "encoding": {
        "x": {"datum": 2018.61, "type": "quantitative", "axis": null},
        "y": {"datum": -8.44, "type": "quantitative", "axis": null},
        "text": {"field": "note"}
      }
    },
    {
      "data": {"values": [{"note": "yardeni.com"}]},
      "mark": {"type": "text", "align": "right", "baseline": "alphabetic", "fontSize": 23, "font": "Liberation Serif", "fontStyle": "italic", "fontWeight": "bold", "color": "black"},
      "encoding": {
        "x": {"datum": 2025.84, "type": "quantitative", "axis": null},
        "y": {"datum": -9.35, "type": "quantitative", "axis": null},
        "text": {"field": "note"}
      }
    }
  ],
  "resolve": {"scale": {"color": "independent"}, "legend": {"color": "independent"}, "axis": {"x": "independent", "y": "independent"}}
}
